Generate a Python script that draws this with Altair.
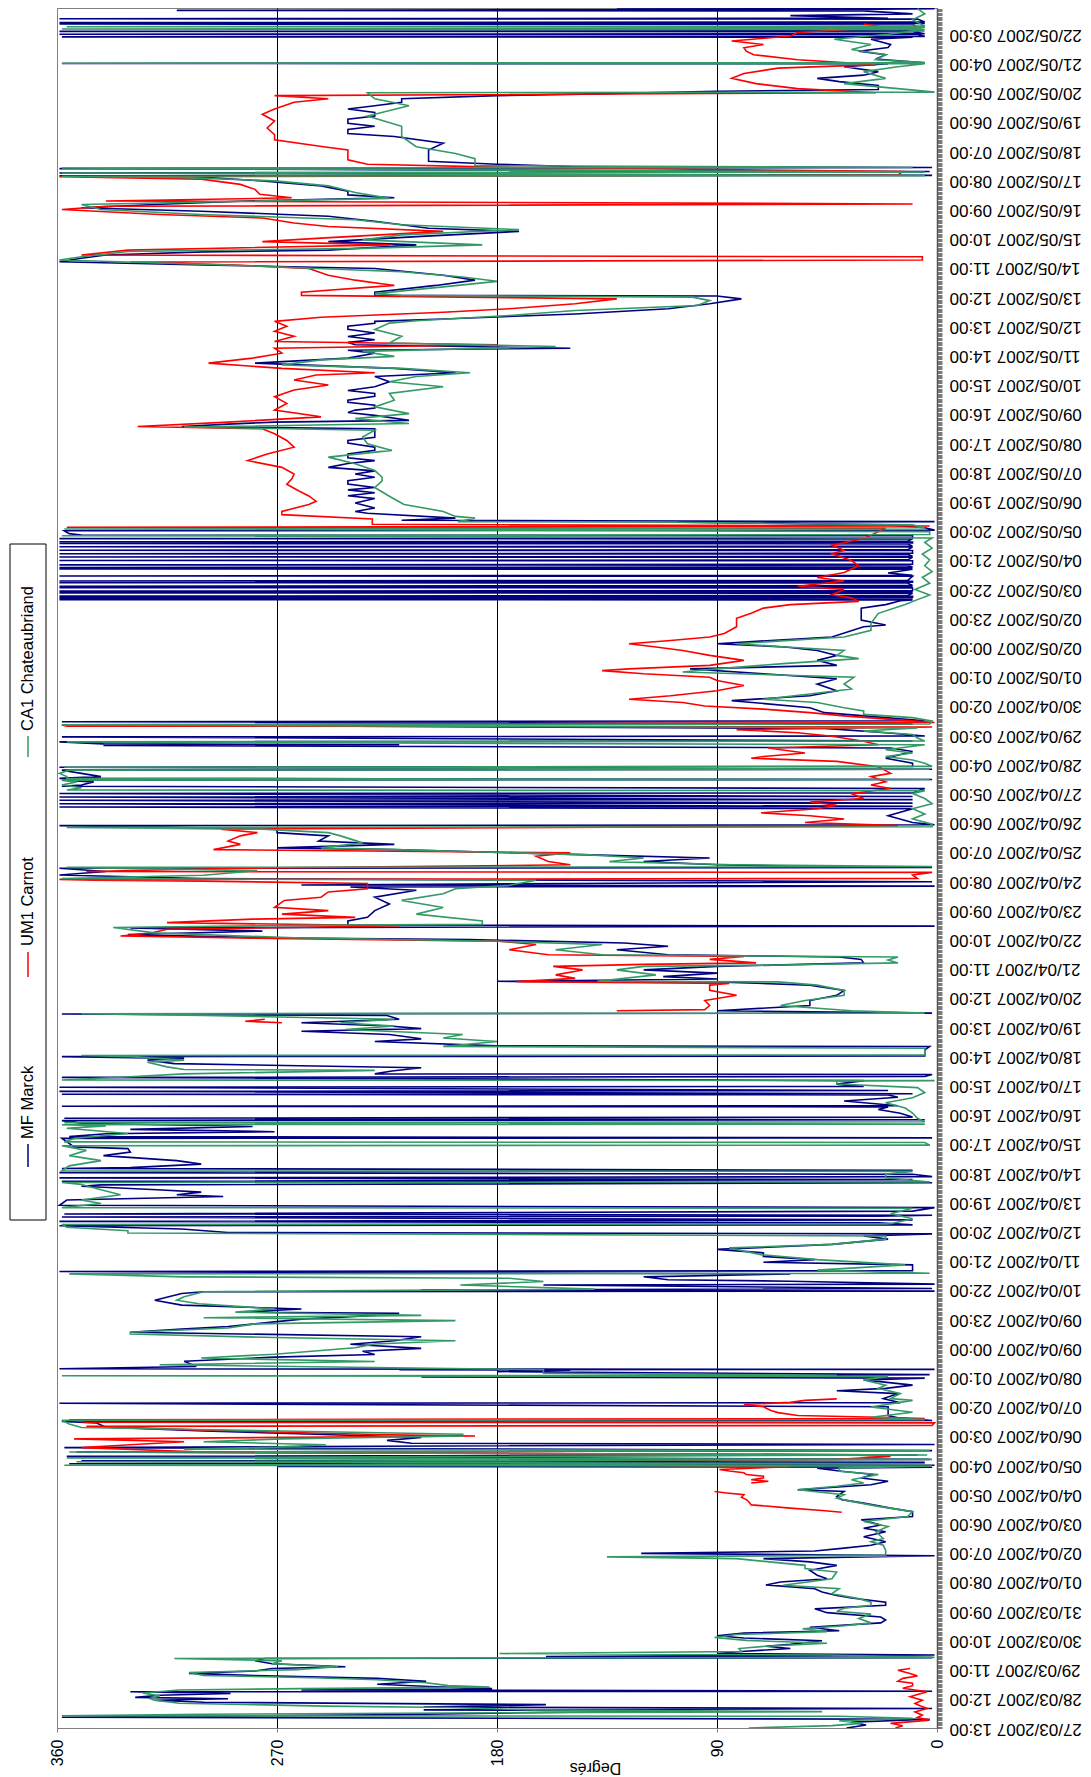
import altair as alt
import pandas as pd

# Time is read in label steps (one step = 23 hours, as between two tick labels)
date_labels = [
    "27/03/2007 13:00", "28/03/2007 12:00", "29/03/2007 11:00", "30/03/2007 10:00",
    "31/03/2007 09:00", "01/04/2007 08:00", "02/04/2007 07:00", "03/04/2007 06:00",
    "04/04/2007 05:00", "05/04/2007 04:00", "06/04/2007 03:00", "07/04/2007 02:00",
    "08/04/2007 01:00", "09/04/2007 00:00", "09/04/2007 23:00", "10/04/2007 22:00",
    "11/04/2007 21:00", "12/04/2007 20:00", "13/04/2007 19:00", "14/04/2007 18:00",
    "15/04/2007 17:00", "16/04/2007 16:00", "17/04/2007 15:00", "18/04/2007 14:00",
    "19/04/2007 13:00", "20/04/2007 12:00", "21/04/2007 11:00", "22/04/2007 10:00",
    "23/04/2007 09:00", "24/04/2007 08:00", "25/04/2007 07:00", "26/04/2007 06:00",
    "27/04/2007 05:00", "28/04/2007 04:00", "29/04/2007 03:00", "30/04/2007 02:00",
    "01/05/2007 01:00", "02/05/2007 00:00", "02/05/2007 23:00", "03/05/2007 22:00",
    "04/05/2007 21:00", "05/05/2007 20:00", "06/05/2007 19:00", "07/05/2007 18:00",
    "08/05/2007 17:00", "09/05/2007 16:00", "10/05/2007 15:00", "11/05/2007 14:00",
    "12/05/2007 13:00", "13/05/2007 12:00", "14/05/2007 11:00", "15/05/2007 10:00",
    "16/05/2007 09:00", "17/05/2007 08:00", "18/05/2007 07:00", "19/05/2007 06:00",
    "20/05/2007 05:00", "21/05/2007 04:00", "22/05/2007 03:00",
]
degree_ticks = [0, 90, 180, 270, 360]

series_names = ["MF Marck", "UM1 Carnot", "CA1 Chateaubriand"]
series_colors = ["#000080", "#FF0000", "#339966"]

# MF Marck: (time in label steps, degrees)
marck = [
    (0.0,37),(0.1,29),(0.2,35),(0.3,3),(0.37,358),(0.45,230),(0.52,170),(0.58,100),(0.62,210),(0.67,2),
    (0.72,210),(0.8,160),(0.88,300),(0.95,320),(1.0,290),(1.05,328),(1.12,318),(1.18,289),(1.24,330),(1.26,2),
    (1.3,260),(1.35,182),(1.41,205),(1.5,229),(1.6,209),(1.7,229),(1.8,279),(1.87,306),(1.95,279),(2.04,272),
    (2.1,242),(2.2,272),(2.3,279),(2.38,275),(2.41,2),(2.45,160),(2.5,1),(2.55,90),(2.62,80),(2.72,60),
    (2.8,70),(2.87,60),(2.99,47),(3.08,79),(3.16,90),(3.25,79),(3.33,40),(3.45,52),(3.6,23),(3.7,21),
    (3.8,23),(3.95,45),(4.08,50),(4.2,21),(4.31,21),(4.45,35),(4.54,41),(4.66,47),(4.77,50),(4.9,70),
    (5.0,64),(5.11,45),(5.23,49),(5.4,52),(5.57,41),(5.69,52),(5.8,71),(5.9,1),(5.98,121),(6.06,50),
    (6.15,39),(6.26,27),(6.38,21),(6.55,30),(6.72,21),(6.84,30),(6.95,23),(7.13,31),(7.24,10),(7.41,10),
    (7.53,19),(7.7,30),(7.82,39),(7.93,41),(8.1,38),(8.16,57),(8.33,27),(8.45,20),(8.56,31),(8.68,26),
    (8.79,39),(8.9,49),(8.93,2),(8.96,270),(9.0,1),(9.05,355),(9.1,5),(9.15,350),(9.2,3),(9.3,356),
    (9.35,8),(9.45,352),(9.5,2),(9.6,357),(9.65,230),(9.71,1),(9.75,215),(9.85,225),(9.95,211),(10.0,230),
    (10.17,300),(10.3,340),(10.45,344),(10.5,358),(10.53,2),(10.62,16),(10.7,20),(10.87,20),(11.0,20),(11.12,359),
    (11.14,15),(11.28,22),(11.45,16),(11.55,41),(11.63,21),(11.74,10),(11.92,30),(11.98,5),(12.02,211),(12.1,3),
    (12.2,180),(12.25,150),(12.27,220),(12.28,1),(12.3,359),(12.38,303),(12.56,308),(12.7,271),(12.79,230),(12.9,235),
    (13.0,211),(13.14,240),(13.26,222),(13.4,211),(13.55,330),(13.66,309),(13.75,290),(13.84,279),(14.0,260),(14.13,230),
    (14.2,220),(14.24,286),(14.35,260),(14.48,309),(14.65,320),(14.88,309),(14.94,300),(14.96,1),(15.0,211),(15.05,2),
    (15.17,161),(15.2,1),(15.3,60),(15.35,110),(15.45,120),(15.55,60),(15.63,359),(15.66,10),(15.86,10),(15.95,71),
    (16.04,50),(16.15,71),(16.27,71),(16.39,90),(16.56,43),(16.74,20),(16.85,30),(16.92,2),(16.97,290),(17.09,309),
    (17.2,359),(17.23,10),(17.3,24),(17.35,359),(17.4,10),(17.5,358),(17.53,24),(17.56,2),(17.6,357),(17.7,10),
    (17.82,1),(17.9,359),(18.08,356),(18.2,292),(18.26,311),(18.35,301),(18.43,319),(18.55,350),(18.6,342),(18.67,2),
    (18.72,358),(18.78,10),(18.84,359),(18.88,2),(18.96,10),(19.02,359),(19.1,10),(19.16,358),(19.19,330),(19.31,301),
    (19.43,311),(19.6,341),(19.72,330),(19.84,331),(19.9,353),(20.19,358),(20.21,2),(20.25,355),(20.35,340),(20.42,271),
    (20.5,330),(20.6,280),(20.71,350),(20.8,358),(20.83,5),(20.88,357),(20.92,10),(21.05,15),(21.18,24),(21.27,20),
    (21.29,358),(21.31,16),(21.47,38),(21.6,16),(21.68,20),(21.7,358),(21.72,10),(21.8,359),(21.83,20),(21.94,359),
    (21.97,30),(22.05,41),(22.17,30),(22.28,358),(22.31,5),(22.38,2),(22.4,230),(22.5,223),(22.61,211),(22.75,312),
    (22.87,323),(22.93,308),(22.99,358),(23.01,5),(23.22,5),(23.34,3),(23.36,180),(23.51,230),(23.6,211),(23.75,224),
    (23.86,260),(23.95,211),(24.04,224),(24.15,260),(24.27,220),(24.4,225),(24.45,358),(24.48,2),(24.56,90),(24.74,52),
    (24.91,52),(25.09,41),(25.26,38),(25.44,52),(25.55,90),(25.57,180),(25.65,90),(25.73,112),(25.85,90),(25.96,120),
    (26.08,90),(26.2,30),(26.32,31),(26.4,40),(26.48,110),(26.65,131),(26.77,110),(26.88,128),(27.0,191),(27.06,276),
    (27.17,331),(27.29,276),(27.4,330),(27.46,1),(27.5,241),(27.64,241),(27.76,233),(27.99,230),(28.22,224),(28.45,230),
    (28.69,213),(28.8,240),(28.83,1),(28.87,260),(28.92,150),(28.98,2),(29.09,301),(29.21,359),(29.33,340),(29.44,359),
    (29.47,2),(29.5,50),(29.56,90),(29.67,120),(29.79,93),(29.9,142),(30.08,222),(30.14,270),(30.26,222),(30.37,253),
    (30.55,249),(30.66,270),(30.78,270),(30.9,359),(30.93,1),(31.01,10),(31.24,20),(31.48,10),(31.54,359),(31.56,10),
    (31.65,359),(31.67,10),(31.77,359),(31.79,10),(31.88,359),(31.9,10),(32.0,359),(32.02,10),(32.17,5),(32.25,358),
    (32.29,350),(32.4,345),(32.46,358),(32.48,2),(32.52,359),(32.58,342),(32.69,350),(32.8,358),(32.83,2),(32.9,359),
    (32.93,10),(33.04,10),(33.21,21),(33.44,10),(33.56,19),(33.65,341),(33.67,220),(33.7,341),(33.77,359),(33.8,10),
    (33.94,358),(33.97,5),(34.08,21),(34.23,46),(34.35,358),(34.38,10),(34.46,358),(34.49,5),(34.6,21),(34.77,46),
    (34.94,52),(35.18,84),(35.35,52),(35.52,41),(35.75,49),(35.93,41),(36.1,71),(36.27,101),(36.39,41),(36.56,49),
    (36.73,41),(36.9,49),(37.02,62),(37.13,90),(37.24,68),(37.36,43),(37.71,30),(37.77,21),(37.94,31),(38.35,31),
    (38.47,21),(38.6,15),
    (38.63,10),(38.64,359),(38.66,10),(38.69,12),(38.7,359),(38.72,10),(38.75,10),(38.76,359),(38.78,12),(38.86,10),
    (38.87,359),(38.89,10),(38.92,12),(38.93,359),(38.95,10),(39.04,10),(39.05,359),(39.07,12),(39.09,10),(39.1,359),
    (39.12,10),(39.21,12),(39.22,359),(39.24,10),(39.27,10),(39.28,359),(39.3,12),(39.44,10),(39.45,359),(39.47,10),
    (39.55,20),(39.68,10),(39.69,359),(39.71,12),(39.73,10),(39.74,359),(39.76,10),(39.82,12),(39.83,359),(39.85,10),
    (39.97,10),(39.98,359),(40.0,12),(40.09,10),(40.1,359),(40.12,10),(40.2,12),(40.21,359),(40.23,10),(40.32,10),
    (40.33,359),(40.35,12),(40.44,10),(40.45,359),(40.47,10),(40.55,12),(40.56,359),(40.58,10),(40.61,10),(40.62,359),
    (40.64,12),(40.72,10),(40.73,359),(40.75,10),
    (40.83,10),(40.85,350),(40.9,355),(41.0,357),(41.02,1),(41.1,5),(41.2,20),(41.29,106),(41.31,1),(41.36,219),
    (41.43,197),(41.6,233),(41.66,238),(41.78,230),(41.95,238),(42.1,230),(42.2,241),(42.3,230),(42.4,241),(42.48,230),
    (42.6,241),(42.71,241),(42.83,230),(42.94,238),(43.05,230),(43.17,249),(43.3,241),(43.4,230),(43.5,241),(43.63,241),
    (43.75,230),(43.86,230),(44.0,241),(44.09,241),(44.2,230),(44.32,230),(44.49,230),(44.57,309),(44.65,290),(44.72,271),
    (44.78,216),(44.95,230),(45.05,241),(45.13,238),(45.2,230),(45.3,230),(45.4,241),(45.47,241),(45.6,230),(45.7,230),
    (45.8,241),(45.93,230),(46.1,224),(46.28,230),(46.41,197),(46.56,222),(46.74,279),(46.91,241),(47.08,230),(47.18,241),
    (47.25,150),(47.37,238),(47.45,241),(47.54,230),(47.65,241),(47.77,230),(47.9,241),(48.0,241),(48.1,230),(48.17,230),
    (48.25,202),(48.42,148),(48.6,110),(48.77,93),(48.94,80),(49.04,90),(49.06,230),(49.17,230),(49.4,205),(49.58,189),
    (49.75,202),(49.98,230),(50.1,300),(50.21,359),(50.33,350),(50.44,340),(50.55,300),(50.61,249),(50.79,213),(50.9,249),
    (51.08,211),(51.25,171),(51.36,208),(51.6,230),(51.77,249),(51.94,301),(52.06,350),(52.17,320),(52.3,280),(52.4,222),
    (52.5,241),(52.63,241),(52.81,252),(52.98,276),(53.1,300),(53.15,359),(53.17,2),(53.25,359),(53.3,3),(53.4,359),
    (53.44,2),(53.47,150),(53.55,180),(53.65,208),(53.74,208),(54.04,208),(54.27,202),(54.5,222),(54.6,241),(54.74,241),
    (54.85,230),(54.95,241),(55.09,241),(55.2,230),(55.32,230),(55.44,241),(55.55,230),(55.67,219),(55.79,219),(55.9,180),
    (55.96,139),(56.05,90),(56.11,24),(56.25,24),(56.38,40),(56.49,49),(56.6,30),(56.72,24),(56.89,38),(56.99,20),
    (57.0,358),(57.02,5),(57.15,25),(57.3,21),(57.42,32),(57.55,20),(57.65,19),(57.83,27),(57.9,10),(57.91,358),
    (57.93,5),(57.99,8),(58.0,359),(58.02,5),(58.09,10),(58.1,359),(58.12,6),(58.34,10),(58.35,359),(58.37,5),
    (58.4,359),(58.42,5),(58.52,8),(58.53,359),(58.55,20),(58.64,60),(58.7,10),(58.8,30),(58.82,311),(58.86,24),
    (58.88,1),(58.9,131),
]

# UM1 Carnot: separate pieces (gaps where no data)
carnot_segments = [
    [(0.0,17),(0.08,14),(0.16,19),(0.27,3),(0.36,8),(0.44,6),(0.55,9),(0.67,4),(0.76,7),(0.84,9),(0.95,6),
     (1.07,11),(1.15,8),(1.24,4),(1.3,9),(1.36,14),(1.45,10),(1.53,10),(1.6,16),(1.7,14),(1.78,8),(1.87,11),
     (1.98,16),(2.04,11)],
    [(7.39,39),(7.45,47),(7.53,60),(7.6,70),(7.64,76),(7.75,77),(7.82,78),(7.9,80),(7.99,79),(8.05,86),(8.1,91)],
    [(8.39,76),(8.45,69),(8.5,76),(8.56,71),(8.62,71),(8.68,78),(8.74,79),(8.8,85),(8.85,89),(8.95,60),(9.08,230),
     (9.1,249),(9.2,40),(9.3,19),(9.35,35),(9.45,300),(9.6,350),(9.7,330),(9.8,308),(9.9,353),(10.0,189),(10.05,230),
     (10.2,300),(10.33,348),(10.36,2),(10.45,1),(10.47,348),(10.55,355),(10.6,5),(10.64,24),(10.7,57),(10.8,65),
     (10.87,68),(11.0,71),(11.08,79),(11.15,60),(11.22,54),(11.27,41)],
    [(24.15,268),(24.2,283),(24.27,275)],
    [(24.56,131),(24.6,95),(24.74,93),(24.91,95),(25.09,82),(25.26,93),(25.44,93),(25.5,85),(25.56,172),(25.67,148),
     (25.79,156),(25.96,145),(26.08,157),(26.15,120),(26.2,74),(26.32,93),(26.42,79),(26.48,159),(26.65,175),(26.83,164),
     (26.94,179),(27.03,264),(27.12,334),(27.23,321),(27.35,315),(27.47,220),(27.58,315),(27.7,280),(27.76,238),(27.87,268),
     (27.99,249),(28.1,271),(28.34,267),(28.45,252),(28.63,249),(28.74,233),(28.92,233),(29.0,300),(29.03,345),(29.06,359),
     (29.09,8),(29.21,10),(29.3,2),(29.33,348),(29.44,285),(29.56,150),(29.67,159),(29.85,164),(29.97,150),(30.08,296),
     (30.26,285),(30.37,290),(30.55,285),(30.66,278),(30.78,293),(30.9,16),(31.01,54),(31.13,38),(31.24,52),(31.34,72),
     (31.48,49),(31.6,41),(31.71,52),(31.83,30),(32.0,35),(32.17,19),(32.29,27),(32.4,21),(32.58,27),(32.69,19),
     (32.92,24),(33.1,41),(33.21,76),(33.27,71),(33.39,54),(33.56,69),(33.67,24),(33.79,30),(33.96,43),(34.08,57),
     (34.19,82),(34.28,2),(34.31,356),(34.35,358),(34.43,1),(34.54,19),(34.66,38),(34.77,52),(34.89,71),(35.0,95),
     (35.12,104),(35.23,126),(35.35,109),(35.52,90),(35.7,79),(35.87,90),(35.98,93),(36.1,120),(36.21,137),(36.27,126),
     (36.39,93),(36.56,79),(36.73,93),(36.9,104),(37.02,115),(37.13,126),(37.24,109),(37.36,93),(37.48,87),(37.71,82),
     (38.0,82),(38.17,76),(38.35,71),(38.47,60),(38.58,32),(38.7,35),(38.81,43),(38.99,38),(39.1,57),(39.28,38),
     (39.4,49),(39.57,38),(39.8,32),(39.98,35),(40.21,43),(40.33,38),(40.5,43),(40.73,30),(40.85,27),(41.08,21),
     (41.12,356),(41.16,3),(41.22,231),(41.4,231),(41.55,268),(41.66,268),(41.9,257),(42.01,254),(42.19,257),(42.36,261),
     (42.59,266),(42.77,264),(42.94,263),(43.17,268),(43.4,282),(43.63,274),(43.86,263),(44.09,266),(44.32,271),(44.49,276),
     (44.57,327),(44.72,290),(44.9,252),(45.13,271),(45.36,266),(45.59,271),(45.82,263),(45.99,249),(46.16,263),(46.33,254),
     (46.41,230),(46.56,268),(46.74,298),(46.91,280),(47.08,268),(47.25,271),(47.37,180),(47.48,271),(47.66,263),(47.83,271),
     (48.0,266),(48.17,271),(48.31,252),(48.48,202),(48.6,175),(48.77,148),(48.94,131),(49.06,260),(49.17,260),(49.4,222),
     (49.58,238),(49.75,249),(49.98,257),(50.1,287),(50.2,330),(50.27,6),(50.38,6),(50.44,350),(50.61,331),(50.79,224),
     (50.9,276),(51.02,252),(51.25,202),(51.42,249),(51.54,263),(51.71,276),(51.83,318),(52.0,358),(52.11,340),(52.19,10),
     (52.29,340),(52.4,264),(52.52,277),(52.69,279),(52.86,285),(53.04,301),(53.12,359),(53.18,16),(53.3,14),(53.45,180),
     (53.55,233),(53.7,241),(54.04,241),(54.15,251),(54.39,271),(54.56,271),(54.79,274),(55.03,271),(55.26,276),(55.44,271),
     (55.67,263),(55.79,249),(55.9,271),(56.0,25),(56.14,57),(56.31,74),(56.49,84),(56.66,79),(56.84,65),(56.96,25),
     (57.13,57),(57.3,75),(57.42,78),(57.54,79),(57.65,71),(57.77,84),(57.94,60),(58.06,57),(58.24,21),(58.35,30)],
]

# CA1 Chateaubriand
chateaubriand = [
    (0.0,77),(0.08,43),(0.16,31),(0.25,40),(0.33,10),(0.4,40),(0.42,358),(0.47,300),(0.52,180),(0.56,47),
    (0.62,165),(0.7,200),(0.75,250),(0.85,310),(0.95,320),(1.01,322),(1.1,318),(1.2,325),(1.3,310),(1.35,260),
    (1.4,183),(1.45,200),(1.55,209),(1.65,229),(1.72,255),(1.8,300),(1.9,306),(2.0,262),(2.1,245),(2.2,272),
    (2.3,268),(2.38,312),(2.42,1),(2.5,45),(2.55,179),(2.62,80),(2.72,81),(2.8,70),(2.9,45),(3.0,78),
    (3.1,91),(3.2,82),(3.3,45),(3.4,55),(3.5,38),(3.6,27),(3.75,32),(3.9,27),(4.0,41),(4.1,38),
    (4.2,27),(4.31,27),(4.43,32),(4.6,43),(4.77,40),(4.89,63),(5.11,43),(5.34,41),(5.46,54),(5.57,54),
    (5.8,82),(5.86,135),(5.92,21),(6.09,21),(6.26,22),(6.38,27),(6.49,22),(6.72,25),(6.9,20),(7.07,30),
    (7.24,12),(7.41,10),(7.59,24),(7.76,35),(7.87,41),(7.99,38),(8.16,57),(8.28,41),(8.39,30),(8.5,35),
    (8.68,24),(8.79,40),(8.9,40),(8.97,2),(9.0,357),(9.05,5),(9.12,352),(9.2,2),(9.25,356),(9.35,4),
    (9.45,355),(9.5,3),(9.55,308),(9.62,270),(9.7,250),(9.8,300),(9.9,268),(10.0,194),(10.06,194),(10.17,268),
    (10.29,350),(10.41,355),(10.54,358),(10.56,5),(10.64,27),(10.81,10),(10.99,27),(11.22,10),(11.28,19),(11.45,15),
    (11.63,24),(11.74,21),(11.92,30),(12.04,20),(12.06,358),(12.08,41),(12.15,161),(12.27,161),(12.44,318),(12.55,230),
    (12.67,301),(12.8,271),(13.02,238),(13.15,230),(13.26,197),(13.37,271),(13.49,330),(13.55,330),(13.7,290),(13.84,279),
    (13.95,197),(14.05,300),(14.13,211),(14.24,287),(14.35,271),(14.53,302),(14.65,311),(14.77,308),(14.94,300),(15.03,140),
    (15.17,195),(15.29,161),(15.4,175),(15.45,308),(15.55,355),(15.57,3),(15.68,49),(15.86,13),(16.04,49),(16.21,72),
    (16.44,85),(16.56,43),(16.74,21),(16.85,21),(16.95,331),(17.03,331),(17.15,356),(17.24,358),(17.27,19),(17.44,10),
    (17.61,19),(17.8,10),(17.82,358),(17.96,342),(18.08,350),(18.26,334),(18.43,342),(18.61,350),(18.68,358),(18.7,3),
    (18.84,21),(18.96,21),(19.06,10),(19.08,358),(19.25,355),(19.43,342),(19.6,355),(19.78,348),(19.94,358),(19.96,3),
    (20.05,5),(20.07,357),(20.19,353),(20.36,331),(20.54,356),(20.62,340),(20.66,358),(20.68,5),(20.73,357),(20.76,5),
    (20.88,8),(21.06,10),(21.23,13),(21.41,21),(21.58,10),(21.76,5),(21.93,8),(22.05,41),(22.15,41),(22.17,1),
    (22.19,358),(22.3,330),(22.4,308),(22.52,230),(22.55,308),(22.64,315),(22.8,323),(22.87,308),(22.99,330),(23.03,350),
    (23.05,5),(23.1,5),(23.28,5),(23.34,202),(23.51,180),(23.63,202),(23.75,194),(23.92,242),(24.04,222),(24.15,244),
    (24.27,222),(24.4,300),(24.46,350),(24.48,5),(24.56,35),(24.74,64),(24.91,54),(25.09,38),(25.26,38),(25.44,49),
    (25.55,65),(25.57,139),(25.79,115),(25.96,131),(26.08,120),(26.13,65),(26.2,16),(26.3,20),(26.4,16),(26.48,137),
    (26.65,156),(26.83,137),(26.94,180),(27.06,263),(27.23,320),(27.41,337),(27.5,246),(27.52,186),(27.64,186),(27.87,213),
    (28.1,202),(28.34,219),(28.57,202),(28.74,197),(28.86,175),(29.03,164),(29.09,358),(29.2,300),(29.36,278),(29.47,356),
    (29.5,2),(29.56,83),(29.67,134),(29.79,120),(29.9,142),(30.08,222),(30.14,252),(30.31,235),(30.55,244),(30.66,249),
    (30.78,276),(30.84,356),(30.86,2),(30.95,2),(31.13,10),(31.3,5),(31.48,10),(31.65,2),(31.83,5),(32.0,10),
    (32.1,5),(32.12,356),(32.2,350),(32.29,358),(32.4,352),(32.46,358),(32.48,3),(32.52,356),(32.58,356),(32.69,359),
    (32.8,355),(32.83,3),(32.9,357),(32.93,2),(33.04,5),(33.15,10),(33.27,21),(33.39,10),(33.5,21),(33.67,5),
    (33.77,356),(33.8,5),(33.9,8),(34.02,10),(34.14,30),(34.25,8),(34.35,358),(34.38,3),(34.48,2),(34.6,10),
    (34.71,30),(34.83,30),(34.94,38),(35.12,49),(35.23,71),(35.41,52),(35.58,35),(35.75,38),(35.98,34),(36.16,104),
    (36.27,90),(36.45,63),(36.62,32),(36.73,41),(36.9,38),(37.02,62),(37.13,82),(37.36,38),(37.59,27),(37.83,27),
    (38.17,24),(38.47,13),(38.64,8),(38.8,3),(38.99,9),(39.2,3),(39.4,6),(39.6,2),(39.8,5),(40.0,3),
    (40.2,6),(40.4,2),(40.6,5),(40.75,2),(40.83,358),(40.87,3),(40.97,3),(41.06,357),(41.1,5),(41.2,10),
    (41.29,106),(41.31,196),(41.43,189),(41.49,197),(41.66,202),(41.9,218),(42.13,223),(42.48,230),(42.71,227),(42.83,227),
    (43.06,230),(43.29,238),(43.52,249),(43.75,223),(43.98,233),(44.21,235),(44.44,230),(44.55,308),(44.67,216),(44.84,238),
    (45.01,216),(45.24,230),(45.47,222),(45.7,224),(45.93,202),(46.1,224),(46.28,213),(46.41,191),(46.56,219),(46.68,268),
    (46.85,252),(46.97,222),(47.14,235),(47.31,156),(47.43,224),(47.66,219),(47.89,230),(48.11,224),(48.19,213),(48.37,175),
    (48.54,148),(48.71,98),(48.88,93),(49.0,100),(49.06,219),(49.12,230),(49.35,202),(49.54,180),(49.69,194),(49.87,219),
    (50.1,290),(50.27,359),(50.38,350),(50.56,331),(50.67,235),(50.79,186),(50.96,235),(51.13,219),(51.31,171),(51.48,219),
    (51.65,238),(51.83,301),(52.0,342),(52.17,350),(52.38,224),(52.58,238),(52.81,249),(52.98,271),(53.1,310),(53.14,358),
    (53.16,5),(53.25,358),(53.28,5),(53.42,358),(53.44,10),(53.5,189),(53.74,189),(53.92,197),(54.15,213),(54.5,219),
    (54.85,219),(55.2,233),(55.55,216),(55.79,230),(56.0,233),(56.02,1),(56.14,16),(56.31,38),(56.49,21),(56.72,30),
    (56.89,16),(56.99,5),(57.01,358),(57.03,5),(57.13,25),(57.3,21),(57.48,35),(57.65,27),(57.83,42),(58.0,20),
    (58.16,5),(58.18,358),(58.2,8),(58.24,5),(58.26,356),(58.28,5),(58.5,10),(58.7,5),(58.88,8),
]


def to_frame(points, name, seg):
    pts = sorted(points)
    return pd.DataFrame({
        "t": [p[0] for p in pts],
        "deg": [p[1] for p in pts],
        "series": name,
        "seg": seg,
    })


df_marck = to_frame(marck, series_names[0], "m")
df_carnot = pd.concat([to_frame(s, series_names[1], f"c{i}") for i, s in enumerate(carnot_segments)],
                      ignore_index=True)
df_chat = to_frame(chateaubriand, series_names[2], "g")

FONT = "Liberation Sans"
t_max = 58.9
hour_ticks = [k / 23 for k in range(0, 1355)]
is_major = "abs(datum.value - round(datum.value)) < 0.001"
label_array = "[" + ",".join("'%s'" % s for s in date_labels) + "]"
label_expr = is_major + " ? " + label_array + "[round(datum.value)] : ''"

x_enc = alt.X(
    "deg:Q",
    scale=alt.Scale(domain=[0, 360], reverse=True, nice=False),
    axis=alt.Axis(
        values=degree_ticks, format="d", labelAngle=270, labelAlign="right", labelBaseline="middle",
        labelFontSize=16, labelFont=FONT, labelColor="#000000", labelPadding=7, labelFlush=False,
        tickSize=4, tickColor="#808080", domainColor="#808080",
        grid=True,
        gridColor={"condition": {"test": "datum.value === 0 || datum.value === 360", "value": "#808080"},
                   "value": "#000000"},
        gridWidth=1,
        title="Degrés", titleAngle=180, titleFontSize=16, titleFont=FONT, titleFontWeight="normal",
        titleColor="#000000", titleAlign="center", titleBaseline="middle", titleX=538, titleY=39,
    ),
)
y_enc = alt.Y(
    "t:Q",
    scale=alt.Scale(domain=[0, t_max], nice=False, zero=False),
    axis=alt.Axis(
        orient="right", values=hour_ticks, labelExpr=label_expr, labelAngle=180, labelAlign="right",
        labelBaseline="middle",
        labelFontSize={"condition": {"test": is_major, "value": 17}, "value": 0},
        labelFont=FONT, labelColor="#000000", labelPadding=7,
        labelOverlap=False, labelFlush=False, tickSize=5, tickColor="#7a7a7a", tickWidth=1,
        domainColor="#555555", domainWidth=1.5, grid=False, title=None,
    ),
)


def line_layer(df, color):
    return alt.Chart(df).mark_line(color=color, strokeWidth=1.6, clip=True).encode(
        x=x_enc, y=y_enc, detail="seg:N", order=alt.Order("t:Q"))


one = pd.DataFrame({"k": [0]})
legend_box = alt.Chart(one).mark_rect(fill="white", stroke="#000000", strokeWidth=1).encode(
    x=alt.value(-47), x2=alt.value(-11), y=alt.value(536), y2=alt.value(1212))

legend_layers = [legend_box]
legend_sym_y = [(1136, 1159), (944, 969), (728, 749)]
legend_txt_y = [1131, 938, 723]
for name, color, (s1, s2), ty in zip(series_names, series_colors, legend_sym_y, legend_txt_y):
    legend_layers.append(
        alt.Chart(one).mark_rule(color=color, strokeWidth=1.5).encode(
            x=alt.value(-29), y=alt.value(s1), y2=alt.value(s2)))
    legend_layers.append(
        alt.Chart(one).mark_text(angle=270, align="left", baseline="middle", fontSize=16.5,
                                 font=FONT, color="#000000").encode(
            x=alt.value(-29), y=alt.value(ty), text=alt.value(name)))

chart = alt.layer(
    line_layer(df_marck, series_colors[0]),
    line_layer(df_carnot, series_colors[1]),
    line_layer(df_chat, series_colors[2]),
    *legend_layers,
).properties(
    width=880, height=1720,
    padding={"left": 1, "top": 0, "right": 0, "bottom": 0},
    background="white",
).configure_view(stroke="#808080", strokeWidth=1)

chart.save("out.html", embed_options={"renderer": "svg", "actions": False})
